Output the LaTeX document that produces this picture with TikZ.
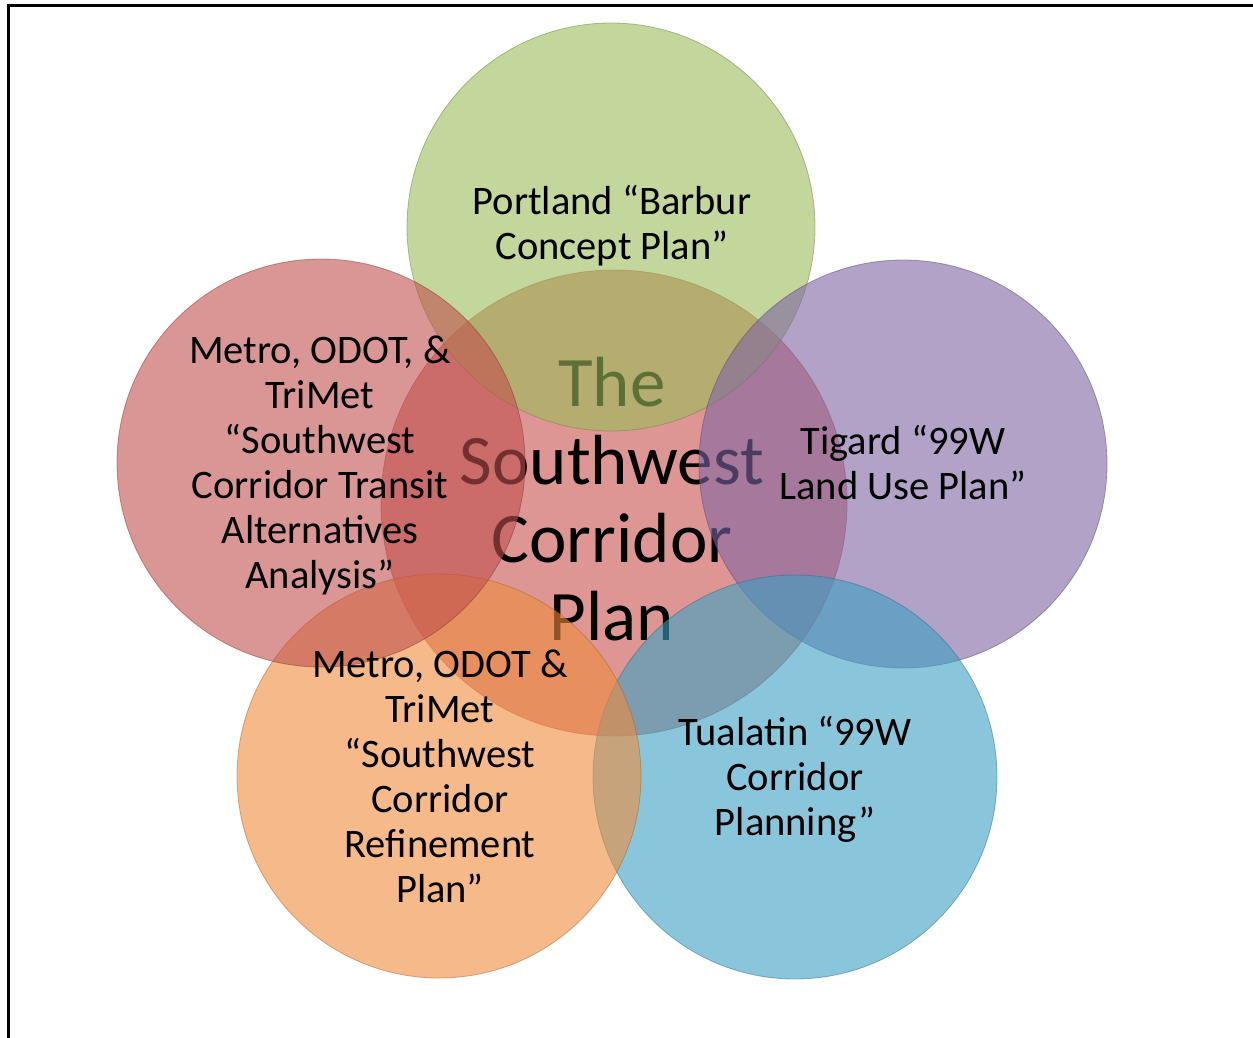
\documentclass[tikz,border=0pt]{standalone}
\usepackage{fontspec}
\setmainfont{Carlito}
\definecolor{cgreen}{RGB}{155,187,89}
\definecolor{cred}{RGB}{192,80,77}
\definecolor{cpurple}{RGB}{128,100,162}
\definecolor{caqua}{RGB}{60,160,195}
\definecolor{corange}{RGB}{240,140,60}
\definecolor{ccenter}{RGB}{200,80,77}
\tikzset{
  bubble/.style={circle, inner sep=0pt, fill opacity=0.6, draw opacity=0.5, line width=0.8pt},
  smalltxt/.style={align=center, inner sep=0pt, text=black, font=\fontsize{40.5}{45}\selectfont},
  bigtxt/.style={align=center, inner sep=0pt, text=black, font=\fontsize{71}{78}\selectfont},
  frameline/.style={line width=3pt, black}
}
\begin{document}
\begin{tikzpicture}[x=1pt,y=-1pt]
\useasboundingbox (0,0) rectangle (1253,1038);
% frame
\coordinate (fa) at (8,1038);
\coordinate (fb) at (8,6);
\coordinate (fc) at (1253,6);
\draw[frameline] (fa) -- (fb) -- (fc);
% centre circle and its text (beneath the outer circles)
\node[bubble, minimum size=466pt, fill=ccenter, draw=ccenter!80!black, fill opacity=0.6] (cc) at (614,503) {};
\node[bigtxt] (ct) at (612,499) {The\\Southwest\\Corridor\\Plan};
% outer circles
\node[bubble, minimum size=408pt, fill=cgreen, draw=cgreen!70!black] (g) at (611,227) {};
\node[bubble, minimum size=408pt, fill=cpurple, draw=cpurple!70!black] (p) at (903,464) {};
\node[bubble, minimum size=404pt, fill=caqua, draw=caqua!70!black] (b) at (795,777) {};
\node[bubble, minimum size=404pt, fill=corange, draw=corange!70!black] (o) at (439,776) {};
\node[bubble, minimum size=408pt, fill=cred, draw=cred!70!black] (r) at (321,463) {};
% outer texts
\node[smalltxt] (gt) at (612,226) {Portland “Barbur\\Concept Plan”};
\node[smalltxt] (pt) at (903,463) {Tigard “99W\\Land Use Plan”};
\node[smalltxt] (bt) at (795,779) {Tualatin “99W\\Corridor\\Planning”};
\node[smalltxt] (ot) at (440,776) {Metro, ODOT \&\\TriMet\\“Southwest\\Corridor\\Refinement\\Plan”};
\node[smalltxt] (rt) at (320,465) {Metro, ODOT, \&\\TriMet\\“Southwest\\Corridor Transit\\Alternatives\\Analysis”};
\end{tikzpicture}
\end{document}
